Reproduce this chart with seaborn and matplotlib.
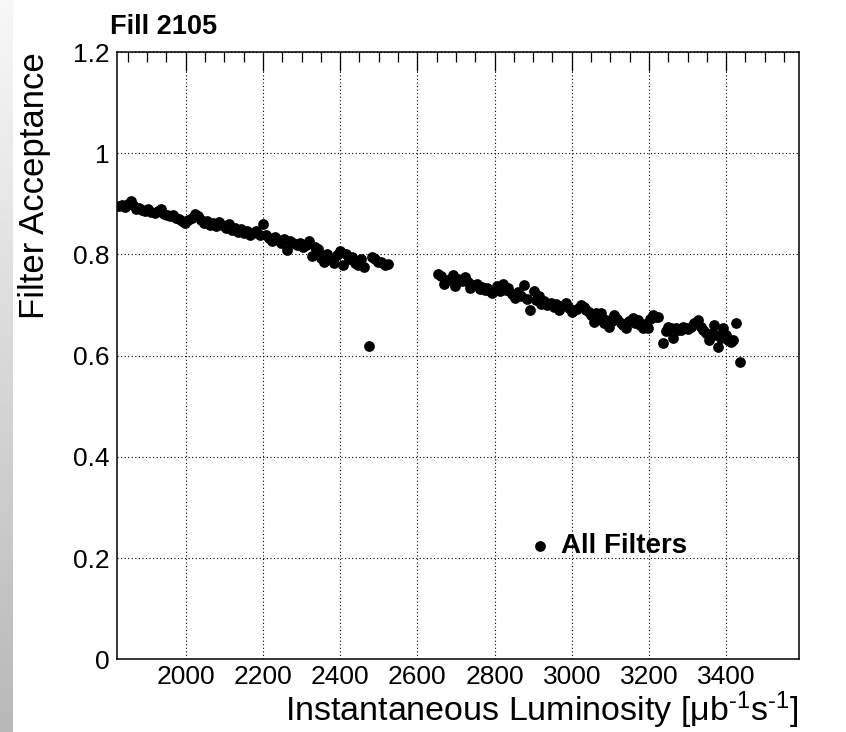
import numpy as np
import pandas as pd
import matplotlib
matplotlib.use("Agg")
import matplotlib.pyplot as plt
import seaborn as sns
from matplotlib.ticker import MultipleLocator

# ---- data ----
lumi_seg1 = [1826, 1834, 1842, 1850, 1857, 1864, 1871, 1879, 1887, 1895, 1903, 1911,
             1919, 1927, 1935, 1943, 1951, 1959, 1967, 1975, 1983, 1991, 1999, 2007,
             2015, 2023, 2031, 2039, 2047, 2055, 2063, 2071, 2079, 2087, 2095, 2103,
             2111, 2119, 2127, 2135, 2143, 2151, 2159, 2167, 2175, 2183, 2191, 2199,
             2207, 2215, 2223, 2231, 2239, 2247, 2255, 2263, 2271, 2279, 2287, 2295,
             2303, 2311, 2319, 2327, 2335, 2343, 2351, 2359, 2367, 2375, 2383, 2391,
             2399, 2407, 2415, 2423, 2431, 2439, 2447, 2455, 2463, 2475, 2483, 2491,
             2499, 2507, 2515, 2523]
acc_seg1 = [0.895, 0.897, 0.894, 0.900, 0.905, 0.897, 0.890, 0.892, 0.888, 0.886, 0.889, 0.884,
            0.882, 0.886, 0.890, 0.880, 0.878, 0.876, 0.878, 0.872, 0.870, 0.866, 0.862, 0.868,
            0.872, 0.880, 0.876, 0.868, 0.862, 0.866, 0.858, 0.862, 0.856, 0.864, 0.858, 0.852,
            0.860, 0.848, 0.852, 0.845, 0.850, 0.842, 0.846, 0.838, 0.842, 0.846, 0.838, 0.860,
            0.838, 0.832, 0.826, 0.834, 0.828, 0.822, 0.830, 0.808, 0.826, 0.822, 0.818, 0.822,
            0.814, 0.818, 0.826, 0.796, 0.814, 0.810, 0.792, 0.786, 0.800, 0.790, 0.784, 0.798,
            0.806, 0.780, 0.800, 0.790, 0.795, 0.784, 0.780, 0.790, 0.776, 0.619, 0.795, 0.790,
            0.785, 0.786, 0.780, 0.782]

lumi_seg2 = [2654, 2662, 2668, 2680, 2693, 2698, 2706, 2715, 2724, 2730, 2737, 2746,
             2755, 2762, 2768, 2775, 2781, 2788, 2794, 2801, 2807, 2815, 2823, 2829,
             2836, 2845, 2854, 2862, 2868, 2875, 2884, 2893, 2901, 2908, 2914, 2921,
             2927, 2936, 2945, 2953, 2960, 2966, 2975, 2984, 2992, 3000, 3005, 3014,
             3023, 3031, 3036, 3044, 3050, 3057, 3064, 3070, 3076, 3083, 3090, 3096,
             3103, 3109, 3118, 3127, 3134, 3140, 3149, 3158, 3164, 3171, 3178, 3184,
             3190, 3197, 3204, 3210, 3217, 3223, 3236, 3243, 3249, 3256, 3262, 3269,
             3275, 3282, 3289, 3295, 3302, 3308, 3317, 3326, 3334, 3340, 3347, 3355,
             3362, 3368, 3373, 3378, 3386, 3393, 3400, 3406, 3412, 3417, 3425, 3435]
acc_seg2 = [0.762, 0.758, 0.742, 0.750, 0.760, 0.738, 0.752, 0.748, 0.756, 0.745, 0.734, 0.740,
            0.742, 0.732, 0.736, 0.730, 0.734, 0.728, 0.724, 0.730, 0.737, 0.728, 0.742, 0.730,
            0.734, 0.722, 0.714, 0.726, 0.718, 0.740, 0.712, 0.690, 0.727, 0.710, 0.717, 0.702,
            0.707, 0.700, 0.704, 0.697, 0.702, 0.690, 0.698, 0.704, 0.694, 0.686, 0.690, 0.692,
            0.700, 0.697, 0.690, 0.687, 0.680, 0.667, 0.684, 0.672, 0.684, 0.664, 0.670, 0.657,
            0.668, 0.681, 0.672, 0.664, 0.660, 0.655, 0.668, 0.674, 0.664, 0.670, 0.660, 0.655,
            0.662, 0.655, 0.672, 0.681, 0.676, 0.677, 0.625, 0.648, 0.657, 0.655, 0.635, 0.655,
            0.650, 0.651, 0.656, 0.655, 0.652, 0.657, 0.664, 0.670, 0.657, 0.650, 0.645, 0.631,
            0.642, 0.660, 0.640, 0.618, 0.635, 0.655, 0.640, 0.631, 0.626, 0.631, 0.664, 0.588]

series_label = "All Filters"
title_text = "Fill 2105"
x_label = r"Instantaneous Luminosity [$\mu$b$^{\text{-1}}$s$^{\text{-1}}$]"
y_label = "Filter Acceptance"
x_limits = (1821, 3588)
y_limits = (0.0, 1.2)

df = pd.DataFrame({
    "lumi": lumi_seg1 + lumi_seg2,
    "acc": acc_seg1 + acc_seg2,
})

# ---- style ----
sns.set_theme(style="white")
plt.rcParams["font.family"] = ["Liberation Sans", "DejaVu Sans"]
plt.rcParams["text.color"] = "black"
plt.rcParams["axes.labelcolor"] = "black"
plt.rcParams["mathtext.fontset"] = "custom"
plt.rcParams["mathtext.rm"] = "Liberation Sans"
plt.rcParams["mathtext.it"] = "Liberation Sans"
plt.rcParams["mathtext.default"] = "regular"

W, H = 846, 732
fig = plt.figure(figsize=(W / 100, H / 100), dpi=100)
fig.patch.set_facecolor("white")

# left-edge grey gradient strip
gax = fig.add_axes([0, 0, 12 / W, 1])
grad = np.linspace(0.97, 0.72, 256).reshape(-1, 1)
gax.imshow(np.repeat(grad, 4, axis=1), cmap="gray", vmin=0, vmax=1, aspect="auto")
gax.set_axis_off()

left, right = 116.7 / W, 798.7 / W
bottom, top = (H - 659.3) / H, (H - 52) / H
ax = fig.add_axes([left, bottom, right - left, top - bottom])

sns.scatterplot(data=df, x="lumi", y="acc", ax=ax, color="black", s=60,
                marker="o", edgecolor="black", linewidth=0, label=series_label)

ax.set_xlim(*x_limits)
ax.set_ylim(*y_limits)

ax.xaxis.set_major_locator(MultipleLocator(200))
ax.xaxis.set_minor_locator(MultipleLocator(50))
ax.yaxis.set_major_locator(MultipleLocator(0.2))
ax.yaxis.set_minor_locator(MultipleLocator(0.05))

ax.set_xticks([2000, 2200, 2400, 2600, 2800, 3000, 3200, 3400])
ax.set_yticks([0, 0.2, 0.4, 0.6, 0.8, 1.0, 1.2])
ax.set_yticklabels(["0", "0.2", "0.4", "0.6", "0.8", "1", "1.2"])

ax.grid(True, which="major", color="black", linestyle=(0, (1, 2.2)), linewidth=0.8)
ax.set_axisbelow(True)

for sp in ax.spines.values():
    sp.set_color("black")
    sp.set_linewidth(1.1)

ax.tick_params(which="both", direction="in", top=True, right=False,
               color="black", width=0.9, labelsize=19, labelcolor="black")
ax.tick_params(which="major", length=14)
ax.tick_params(which="minor", length=7)
ax.tick_params(axis="x", which="major", pad=4)
ax.tick_params(axis="y", which="major", pad=5)

ax.set_xlabel(x_label, fontsize=24.5, loc="right", labelpad=0.5, color="black")
ax.set_ylabel(y_label, fontsize=25, loc="top", labelpad=16, color="black")

fig.text(110 / W, 1 - 34 / H, title_text, fontsize=19.5, fontweight="bold",
         ha="left", va="baseline", color="black")

leg = ax.legend(loc="center left", bbox_to_anchor=((529 - 116.7) / 682, (659.3 - 546) / 607.3),
                frameon=False, borderpad=0, borderaxespad=0, handlelength=0.8,
                handletextpad=0.35, markerscale=1.0,
                prop={"family": "Liberation Sans", "weight": "bold", "size": 20})
for t in leg.get_texts():
    t.set_color("black")

fig.savefig("out.png", dpi=100, facecolor="white")
